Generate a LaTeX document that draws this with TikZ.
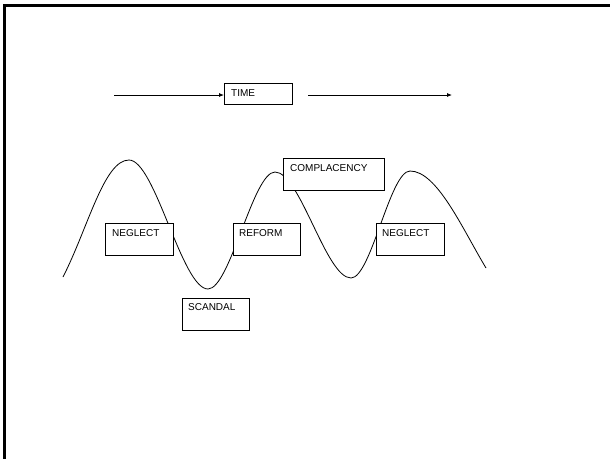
\documentclass[tikz,border=0pt]{standalone}
\usepackage{fontspec}
\setmainfont{Liberation Sans}
\usetikzlibrary{arrows.meta,calc}
\begin{document}
\begin{tikzpicture}[x=1pt,y=-1pt,
  box/.style={draw=black,fill=white,line width=0.8pt,anchor=north west,inner sep=0pt,outer sep=0pt},
  lbl/.style={anchor=base west,inner sep=0pt,font=\fontsize{10}{12}\selectfont},
  timearrow/.style={draw=black,line width=0.8pt,-{Latex[length=5pt,width=4pt]}},
  wave/.style={draw=black,line width=0.8pt}]
\useasboundingbox (0,0) rectangle (610,459);
% page frame (top and left edges)
\draw[line width=2.6pt] (610,5.5) -- (4.5,5.5) -- (4.5,459);
% time line
\node[box,minimum width=68,minimum height=21] (timebox) at (224,83) {};
\node[lbl] (timetxt) at ($(timebox.north west)+(7,13.5)$) {TIME};
\coordinate (a1s) at (114,95);
\coordinate (a2s) at (308,95);
\coordinate (a2e) at (452,95);
\draw[timearrow] (a1s) -- (a1s -| timebox.west);
\draw[timearrow] (a2s) -- (a2e);
% wave
\coordinate (w0) at (63,277);
\coordinate (p1) at (129,160);
\coordinate (t1) at (208,289);
\coordinate (p2) at (275,172);
\coordinate (t2) at (351,278);
\coordinate (p3) at (410,171);
\coordinate (w1) at (486,268);
\draw[wave] (w0) .. controls (88,228) and (104,160) .. (p1)
  .. controls (155,160) and (182,289) .. (t1)
  .. controls (230,289) and (253,172) .. (p2)
  .. controls (300,172) and (326,278) .. (t2)
  .. controls (371,278) and (390,171) .. (p3)
  .. controls (437,171) and (462,228) .. (w1);
% boxes
\node[box,minimum width=68,minimum height=32] (neg1) at (105,223) {};
\node[lbl] (neg1t) at ($(neg1.north west)+(7,13)$) {NEGLECT};
\node[box,minimum width=67,minimum height=32] (scan) at (182,298) {};
\node[lbl] (scant) at ($(scan.north west)+(6,12.5)$) {SCANDAL};
\node[box,minimum width=67,minimum height=32] (ref) at (233,223) {};
\node[lbl] (reft) at ($(ref.north west)+(6,13)$) {REFORM};
\node[box,minimum width=101,minimum height=32] (comp) at (283,158) {};
\node[lbl] (compt) at ($(comp.north west)+(7,13)$) {COMPLACENCY};
\node[box,minimum width=68,minimum height=32] (neg2) at (376,223) {};
\node[lbl] (neg2t) at ($(neg2.north west)+(6,13)$) {NEGLECT};
\end{tikzpicture}
\end{document}
